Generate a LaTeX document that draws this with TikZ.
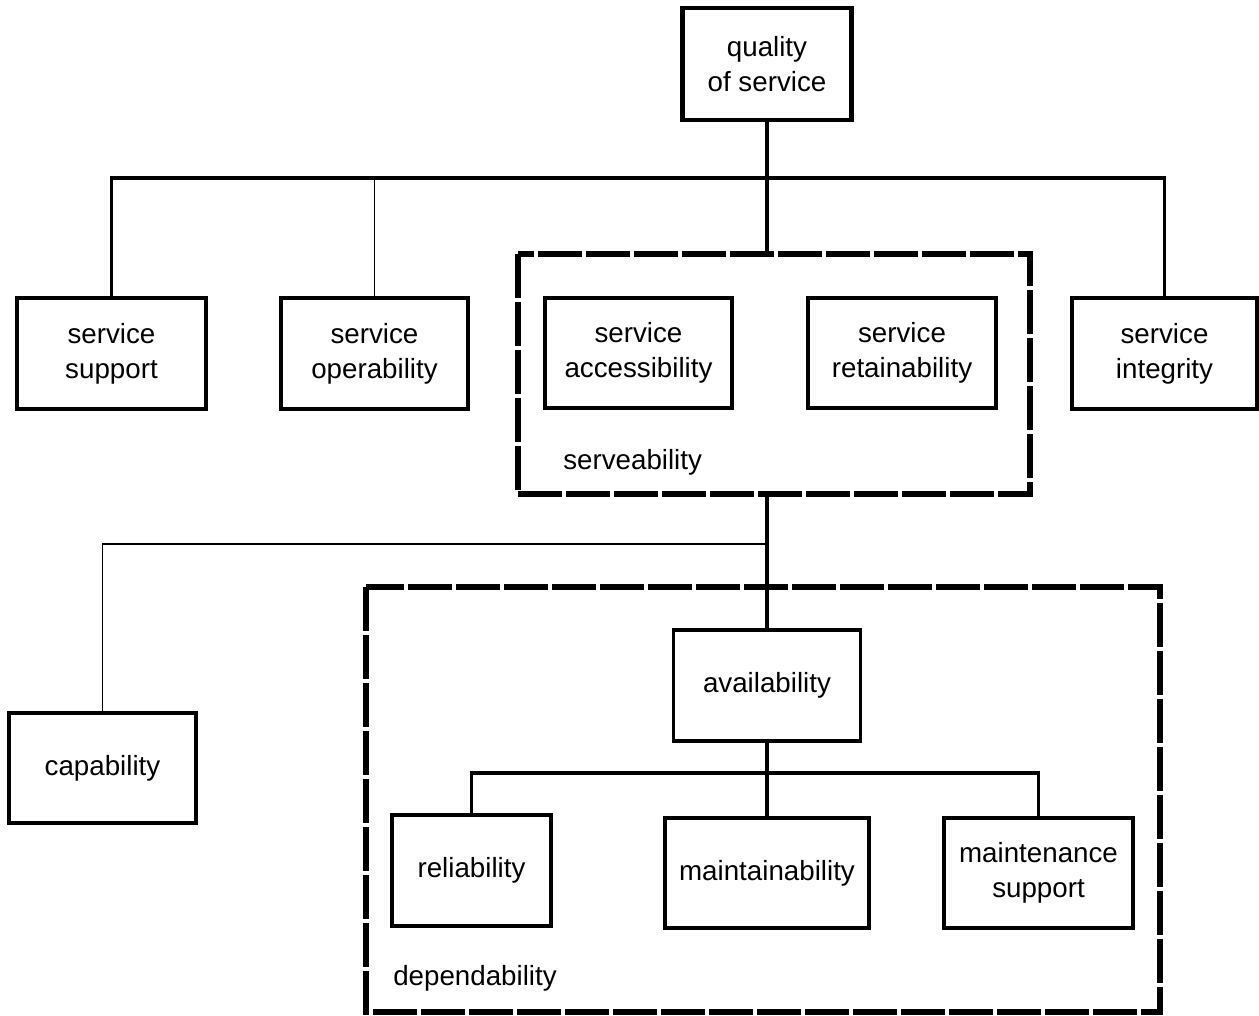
\documentclass[tikz,border=0pt]{standalone}
\usepackage{fontspec}
\setmainfont{Liberation Sans}
\begin{document}
\begin{tikzpicture}[x=0.75pt,y=-0.75pt,
  box/.style={draw,line width=2.4pt,rectangle,inner sep=0pt,align=center,
    font=\fontsize{20.8}{26.25}\selectfont},
  thickbox/.style={box,line width=3.2pt},
  grp/.style={draw,line width=5pt,dash pattern=on 33pt off 3pt},
  conn/.style={line width=2.4pt},
  thinconn/.style={line width=1.4pt},
  lbl/.style={anchor=west,inner sep=0pt,font=\fontsize{20.8}{26.25}\selectfont}]
\useasboundingbox (0,0) rectangle (1259,1015);
% groups
\draw[grp] (518,254) rectangle (1030,494);
\draw[grp] (366,587) rectangle (1160,1012);
\node[lbl] (servlbl) at (563,462) {serveability};
\node[lbl] (deplbl) at (393,978) {dependability};
% boxes
\node[thickbox,minimum width=169*0.75pt,minimum height=112*0.75pt] (qos) at (767,64) {quality\\of service};
\node[box,minimum width=189*0.75pt,minimum height=111*0.75pt] (ss) at (111.5,353.5) {service\\support};
\node[thickbox,minimum width=187*0.75pt,minimum height=111*0.75pt] (so) at (374.5,353.5) {service\\operability};
\node[box,minimum width=187*0.75pt,minimum height=110*0.75pt] (sa) at (638.5,353) {service\\accessibility};
\node[box,minimum width=188*0.75pt,minimum height=110*0.75pt] (sr) at (902,353) {service\\retainability};
\node[box,minimum width=185*0.75pt,minimum height=111*0.75pt] (si) at (1164.5,353.5) {service\\integrity};
\node[thickbox,minimum width=187*0.75pt,minimum height=110*0.75pt] (cap) at (102.5,768) {capability};
\node[box,minimum width=187*0.75pt,minimum height=111*0.75pt] (av) at (767,685.5) {availability};
\node[thickbox,minimum width=159*0.75pt,minimum height=111*0.75pt] (rel) at (471.5,870.5) {reliability};
\node[box,minimum width=204*0.75pt,minimum height=110*0.75pt] (mt) at (767,873) {maintainability};
\node[box,minimum width=189*0.75pt,minimum height=110*0.75pt] (ms) at (1038.5,873) {maintenance\\support};
% coordinates
\coordinate (bar) at (767,178);
\coordinate (servtop) at (767,254);
\coordinate (servbot) at (767,494);
\coordinate (bar2) at (767,544);
\coordinate (bar3) at (767,773);
% connectors
\draw[conn] (qos.south) -- (bar);
\draw[conn] (ss.north) -- (ss.north |- bar) -- (si.north |- bar) -- (si.north);
\draw[thinconn] (so.north) -- (so.north |- bar);
\draw[conn] (bar) -- (servtop);
\draw[conn] (servbot) -- (av.north);
\draw[thinconn] (cap.north) -- (cap.north |- bar2) -- (bar2);
\draw[conn] (av.south) -- (bar3);
\draw[conn] (rel.north) -- (rel.north |- bar3) -- (ms.north |- bar3) -- (ms.north);
\draw[conn] (bar3) -- (mt.north);
\end{tikzpicture}
\end{document}
